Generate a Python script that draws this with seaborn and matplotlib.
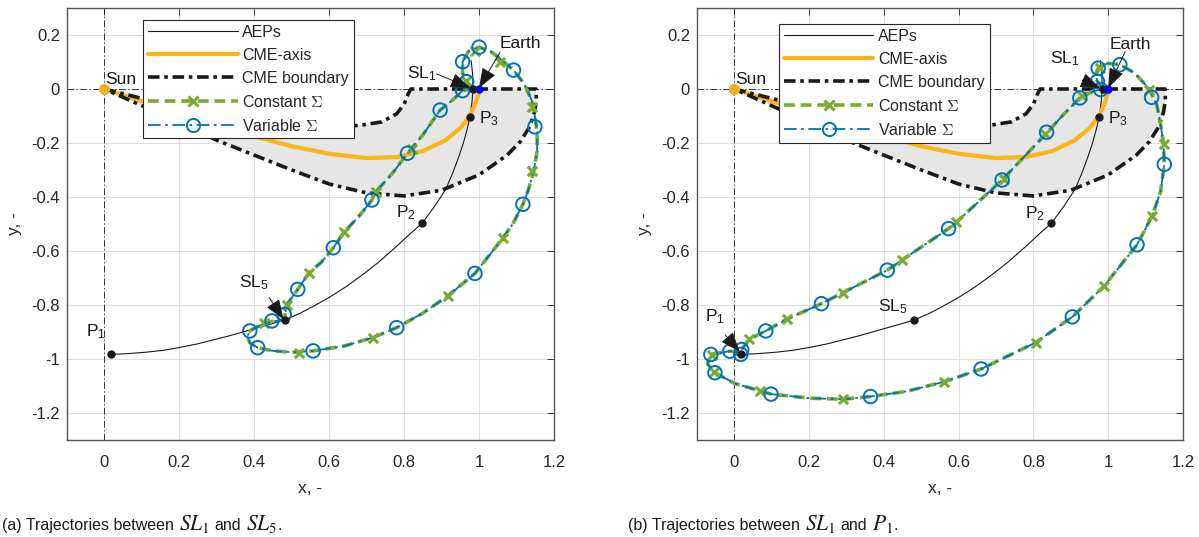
import numpy as np
import matplotlib
matplotlib.use("Agg")
import matplotlib.pyplot as plt
import seaborn as sns
from matplotlib.lines import Line2D

sns.set_theme(style="white")
plt.rcParams['font.family'] = ['Liberation Sans', 'DejaVu Sans']
plt.rcParams['mathtext.fontset'] = 'custom'
plt.rcParams['mathtext.rm'] = 'Liberation Sans'
plt.rcParams['mathtext.it'] = 'Liberation Sans:italic'
plt.rcParams['mathtext.bf'] = 'Liberation Sans:bold'

# ---------------- data ----------------
x_ticks = [0, 0.2, 0.4, 0.6, 0.8, 1.0, 1.2]
x_tick_labels = ["0", "0.2", "0.4", "0.6", "0.8", "1", "1.2"]
y_ticks = [-1.2, -1.0, -0.8, -0.6, -0.4, -0.2, 0, 0.2]
y_tick_labels = ["-1.2", "-1", "-0.8", "-0.6", "-0.4", "-0.2", "0", "0.2"]

# artificial equilibrium points (AEPs) curve
aep_x = [0.017, 0.064, 0.11, 0.156, 0.202, 0.248, 0.294, 0.339, 0.387, 0.435, 0.48,
         0.52, 0.556, 0.6, 0.644, 0.689, 0.733, 0.778, 0.813, 0.848, 0.88, 0.911,
         0.93, 0.946, 0.958, 0.968, 0.976, 0.981, 0.984, 0.983, 0.979]
aep_y = [-0.983, -0.980, -0.975, -0.968, -0.957, -0.944, -0.928, -0.912, -0.893,
         -0.874, -0.856, -0.832, -0.806, -0.772, -0.733, -0.688, -0.64, -0.585,
         -0.54, -0.497, -0.437, -0.372, -0.31, -0.25, -0.2, -0.15, -0.102, -0.05,
         0.0, 0.05, 0.105]

# CME axis
cme_axis_x = [0, 0.1, 0.2, 0.3, 0.4, 0.5, 0.6, 0.7, 0.78, 0.85, 0.91, 0.95, 0.975,
              0.99, 0.998, 1.0]
cme_axis_y = [0, -0.045, -0.09, -0.135, -0.175, -0.212, -0.24, -0.256, -0.252,
              -0.23, -0.19, -0.145, -0.1, -0.055, -0.02, 0]

# CME boundary: upper edge (Sun -> front) and lower edge (Sun -> front)
cme_up_x = [0, 0.1, 0.2, 0.3, 0.4, 0.5, 0.6, 0.68, 0.74, 0.78, 0.8, 0.81, 0.818, 1.152]
cme_up_y = [0, -0.035, -0.07, -0.1, -0.122, -0.135, -0.138, -0.135, -0.122, -0.092,
            -0.056, -0.02, 0, 0]
cme_lo_x = [0, 0.1, 0.2, 0.3, 0.4, 0.5, 0.6, 0.7, 0.8, 0.9, 1.0, 1.075, 1.11, 1.135,
            1.148, 1.153, 1.152]
cme_lo_y = [0, -0.062, -0.125, -0.19, -0.245, -0.3, -0.352, -0.385, -0.396, -0.375,
            -0.318, -0.245, -0.195, -0.14, -0.085, -0.04, 0]

# special points
sun_xy = (0.0, 0.0)
earth_xy = (1.0, 0.0)
sl1_xy = (0.985, 0.0)
sl5_xy = (0.481, -0.856)
p1_xy = (0.017, -0.982)
p2_xy = (0.848, -0.497)
p3_xy = (0.976, -0.102)

# (a) trajectory SL1 <-> SL5
traj_a_x = [0.985, 0.967, 0.956, 0.956, 0.972, 1.0, 1.03, 1.056, 1.092, 1.12, 1.14,
            1.149, 1.155, 1.155, 1.145, 1.13, 1.117, 1.09, 1.064, 0.989, 0.916, 0.85,
            0.78, 0.716, 0.64, 0.557, 0.5, 0.45, 0.409, 0.388, 0.382, 0.388, 0.41,
            0.447, 0.475, 0.482, 0.486, 0.516, 0.545, 0.58, 0.611, 0.64, 0.68, 0.714,
            0.724, 0.77, 0.809, 0.85, 0.896, 0.93, 0.956, 0.985]
traj_a_y = [0.0, 0.027, 0.06, 0.101, 0.14, 0.155, 0.14, 0.112, 0.07, 0.02, -0.04,
            -0.1, -0.16, -0.23, -0.31, -0.38, -0.427, -0.5, -0.551, -0.683, -0.767,
            -0.83, -0.884, -0.921, -0.952, -0.97, -0.975, -0.97, -0.958, -0.94, -0.915,
            -0.896, -0.878, -0.861, -0.856, -0.84, -0.8, -0.742, -0.683, -0.64, -0.588,
            -0.53, -0.47, -0.411, -0.381, -0.31, -0.238, -0.17, -0.078, -0.04, -0.006,
            0.0]
var_a_x = [0.967, 0.956, 0.956, 1.0, 1.092, 1.149, 1.117, 0.989, 0.78, 0.557, 0.409,
           0.388, 0.447, 0.48, 0.516, 0.611, 0.714, 0.809, 0.896]
var_a_y = [0.027, -0.006, 0.101, 0.155, 0.07, -0.14, -0.427, -0.683, -0.884, -0.97,
           -0.958, -0.896, -0.859, -0.835, -0.742, -0.588, -0.411, -0.238, -0.078]
const_a_x = [0.965, 0.989, 1.056, 1.14, 1.14, 1.064, 0.916, 0.716, 0.52, 0.427,
             0.486, 0.545, 0.64, 0.724, 0.82]
const_a_y = [0.03, 0.142, 0.099, -0.068, -0.304, -0.551, -0.767, -0.921, -0.977,
             -0.865, -0.8, -0.683, -0.53, -0.381, -0.222]

# (b) trajectory SL1 <-> P1
traj_b_x = [0.985, 0.97, 0.968, 0.975, 1.0, 1.031, 1.07, 1.11, 1.13, 1.14, 1.148, 1.15,
            1.14, 1.118, 1.077, 0.988, 0.904, 0.806, 0.73, 0.66, 0.562, 0.46, 0.364,
            0.291, 0.2, 0.098, 0.068, 0.0, -0.052, -0.072, -0.063, -0.012, 0.017,
            0.0196, 0.04, 0.084, 0.141, 0.233, 0.291, 0.409, 0.448, 0.573, 0.594,
            0.716, 0.832, 0.88, 0.924, 0.96, 0.985]
traj_b_y = [0.0, 0.03, 0.06, 0.082, 0.095, 0.09, 0.06, 0.0, -0.06, -0.13, -0.205,
            -0.28, -0.38, -0.469, -0.577, -0.731, -0.844, -0.939, -0.99, -1.037,
            -1.084, -1.12, -1.139, -1.149, -1.145, -1.13, -1.118, -1.09, -1.051,
            -1.018, -0.983, -0.971, -0.975, -0.965, -0.926, -0.896, -0.852, -0.795,
            -0.754, -0.671, -0.634, -0.517, -0.493, -0.337, -0.168, -0.095, -0.033,
            -0.008, 0.0]
var_b_x = [0.973, 1.031, 0.971, 0.98, 0.924, 0.835, 0.716, 0.573, 0.409, 0.233, 0.084,
           0.0196, 0.017, -0.012, -0.063, -0.052, 0.098, 0.364, 0.66, 0.904, 1.077,
           1.15, 1.116]
var_b_y = [0.077, 0.09, 0.028, -0.002, -0.033, -0.16, -0.337, -0.517, -0.671, -0.795,
           -0.896, -0.965, -0.983, -0.971, -0.983, -1.051, -1.13, -1.139, -1.037,
           -0.844, -0.577, -0.279, -0.031]
const_b_x = [0.978, 1.109, 1.148, 1.118, 0.988, 0.806, 0.562, 0.291, 0.068, -0.054,
             -0.06, 0.04, 0.141, 0.291, 0.448, 0.594, 0.72, 0.832, 0.929]
const_b_y = [0.077, -0.002, -0.205, -0.469, -0.731, -0.939, -1.084, -1.149, -1.118,
             -1.048, -0.985, -0.926, -0.852, -0.754, -0.634, -0.493, -0.334, -0.168,
             -0.027]

caption_a = ["(a) Trajectories between", r"$SL_1$", "and", r"$SL_5$", "."]
caption_b = ["(b) Trajectories between", r"$SL_1$", "and", r"$P_1$", "."]

# ---------------- styles ----------------
C_AXIS = "#FDB515"
C_SUN = "#EDB120"
C_GREEN = "#77AC30"
C_BLUE = "#0072BD"
DASHDOT_THIN = (0, (8, 3, 1.5, 3))
BOUNDARY_LS = (0, (3.2, 1.3, 1.0, 1.3))
GREEN_LS = (0, (3.0, 1.6))
BLUE_LS = (0, (7, 2.5, 1.5, 2.5))
TXT = 12.5

W, H = 1199, 537
fig = plt.figure(figsize=(W / 100, H / 100), dpi=100)
ax_a = fig.add_axes([67 / W, 1 - 440 / H, 487 / W, 432 / H])
ax_b = fig.add_axes([697 / W, 1 - 440 / H, 486 / W, 432 / H])


def label(ax, xy, s):
    ax.text(xy[0], xy[1], s, fontsize=TXT, ha="left", va="baseline", color="k", zorder=8)


def arrow(ax, tail, tip):
    ax.annotate("", xy=tip, xytext=tail,
                arrowprops=dict(arrowstyle="-|>,head_length=0.95,head_width=0.36",
                                color="k", lw=0.7, shrinkA=0, shrinkB=0,
                                mutation_scale=13),
                zorder=9)


def draw_panel(ax, tx, ty, vx, vy, cx, cy, legend_anchor):
    ax.axhline(0, color="k", lw=0.6, ls=DASHDOT_THIN, zorder=1)
    ax.axvline(0, color="k", lw=0.6, ls=DASHDOT_THIN, zorder=1)
    region_x = list(cme_up_x) + list(cme_lo_x[::-1])
    region_y = list(cme_up_y) + list(cme_lo_y[::-1])
    ax.fill(region_x, region_y, color="#E6E6E6", lw=0, zorder=1.5)

    sns.lineplot(x=aep_x, y=aep_y, sort=False, estimator=None, color="k", lw=0.8,
                 ax=ax, zorder=3)
    sns.lineplot(x=cme_axis_x, y=cme_axis_y, sort=False, estimator=None, color=C_AXIS,
                 lw=3.0, ax=ax, zorder=3)
    sns.lineplot(x=region_x, y=region_y, sort=False, estimator=None, color="k",
                 lw=2.6, linestyle=BOUNDARY_LS, ax=ax, zorder=3)

    sns.lineplot(x=tx, y=ty, sort=False, estimator=None, color=C_GREEN, lw=2.6,
                 linestyle=GREEN_LS, ax=ax, zorder=4)
    sns.lineplot(x=tx, y=ty, sort=False, estimator=None, color=C_BLUE, lw=1.3,
                 linestyle=BLUE_LS, ax=ax, zorder=5)
    sns.scatterplot(x=cx, y=cy, marker="x", s=45, color=C_GREEN, linewidth=2.2,
                    ax=ax, zorder=6)
    sns.scatterplot(x=vx, y=vy, marker="o", s=95, facecolor="none", edgecolor=C_BLUE,
                    linewidth=1.4, ax=ax, zorder=7)

    ax.plot(*sun_xy, "o", color=C_SUN, ms=7, zorder=8)
    for pt in (sl1_xy, p1_xy, p2_xy, p3_xy, sl5_xy):
        ax.plot(*pt, "o", color="k", ms=5, zorder=8)
    ax.plot(*earth_xy, "o", color="#0000FF", ms=5, zorder=8)

    ax.set_xlim(-0.1, 1.2)
    ax.set_ylim(-1.3, 0.3)
    ax.set_xticks(x_ticks, x_tick_labels)
    ax.set_yticks(y_ticks, y_tick_labels)
    ax.grid(True, color="#DDDDDD", lw=0.7)
    ax.set_axisbelow(True)
    ax.tick_params(direction="in", length=5, width=0.6, top=True, right=True,
                   labelsize=12, colors="#262626", pad=11)
    ax.tick_params(axis="y", pad=5)
    for sp in ax.spines.values():
        sp.set_color("#555555")
        sp.set_linewidth(1.0)
    ax.set_xlabel("x, -", fontsize=12.5, color="#262626", labelpad=8)
    ax.set_ylabel("y, -", fontsize=12.5, color="#262626", labelpad=7)

    handles = [
        Line2D([], [], color="k", lw=0.8),
        Line2D([], [], color=C_AXIS, lw=3.0),
        Line2D([], [], color="k", lw=2.6, ls=BOUNDARY_LS),
        Line2D([], [], color=C_GREEN, lw=2.6, ls=GREEN_LS, marker="x", ms=7, mew=2.2),
        Line2D([], [], color=C_BLUE, lw=1.3, ls=BLUE_LS, marker="o", ms=9.5,
               mfc="none", mew=1.4),
    ]
    names = ["AEPs", "CME-axis", "CME boundary", r"Constant $\Sigma$", r"Variable $\Sigma$"]
    leg = ax.legend(handles, names, loc="upper left", bbox_to_anchor=legend_anchor,
                    bbox_transform=ax.transData, borderaxespad=0, fontsize=11.5,
                    handlelength=5.6, handletextpad=0.3, labelspacing=0.5,
                    borderpad=0.3, frameon=True, fancybox=False, framealpha=1)
    leg.get_frame().set_edgecolor("#262626")
    leg.get_frame().set_linewidth(0.8)
    leg.set_zorder(10)
    for t in leg.get_texts():
        t.set_math_fontfamily("cm")


draw_panel(ax_a, traj_a_x, traj_a_y, var_a_x, var_a_y, const_a_x, const_a_y,
           (0.104, 0.256))
draw_panel(ax_b, traj_b_x, traj_b_y, var_b_x, var_b_y, const_b_x, const_b_y,
           (0.12, 0.24))

# annotations, panel (a)
label(ax_a, (0.003, 0.019), "Sun")
label(ax_a, (1.056, 0.152), "Earth")
label(ax_a, (0.807, 0.04), r"SL$_1$")
label(ax_a, (1.0, -0.126), r"P$_3$")
label(ax_a, (0.778, -0.477), r"P$_2$")
label(ax_a, (0.36, -0.736), r"SL$_5$")
label(ax_a, (-0.05, -0.915), r"P$_1$")
arrow(ax_a, (0.887, 0.056), (0.976, 0.004))
arrow(ax_a, (1.056, 0.136), (1.0, 0.004))
arrow(ax_a, (0.44, -0.773), (0.478, -0.853))

# annotations, panel (b)
label(ax_b, (0.003, 0.019), "Sun")
label(ax_b, (1.005, 0.148), "Earth")
label(ax_b, (0.845, 0.096), r"SL$_1$")
label(ax_b, (1.0, -0.126), r"P$_3$")
label(ax_b, (0.778, -0.48), r"P$_2$")
label(ax_b, (0.385, -0.825), r"SL$_5$")
label(ax_b, (-0.078, -0.862), r"P$_1$")
arrow(ax_b, (0.93, 0.033), (0.978, 0.004))
arrow(ax_b, (1.045, 0.138), (1.0, 0.004))
arrow(ax_b, (-0.024, -0.911), (0.014, -0.973))


def caption(x0_px, baseline_px, parts):
    """Write a caption piece by piece: sans text mixed with larger math symbols."""
    renderer = fig.canvas.get_renderer()
    x = x0_px
    for i, s in enumerate(parts):
        is_math = s.startswith("$")
        t = fig.text(x / W, 1 - baseline_px / H, s,
                     fontsize=15.5 if is_math else 11.5, va="baseline", ha="left",
                     math_fontfamily="stix", color="k")
        bb = t.get_window_extent(renderer)
        nxt = parts[i + 1] if i + 1 < len(parts) else ""
        gap = 0 if nxt == "." else 5
        x = bb.x1 + gap


caption(2, 530, caption_a)
caption(628, 530, caption_b)

fig.savefig("out.png", dpi=100)
